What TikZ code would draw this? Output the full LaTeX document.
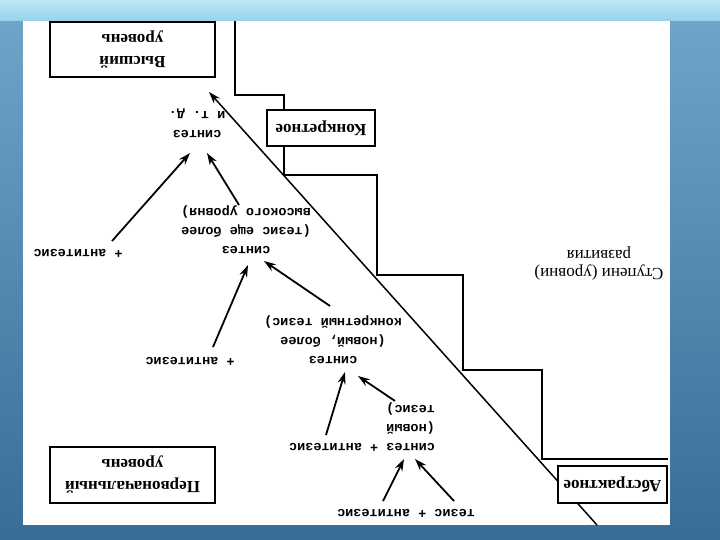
\documentclass[tikz,border=0pt]{standalone}
\usepackage{fontspec}
\setmainfont{Liberation Serif}
\setmonofont{Liberation Mono}
\usetikzlibrary{arrows.meta}
\definecolor{striptop}{RGB}{190,232,246}
\definecolor{stripbot}{RGB}{150,210,234}
\definecolor{bgtop}{RGB}{112,166,202}
\definecolor{bgmid}{RGB}{78,132,172}
\definecolor{bgbot}{RGB}{56,110,150}
\begin{document}
\begin{tikzpicture}[x=1pt,y=-1pt,
  boxst/.style={draw, line width=1.7pt, fill=white, rotate=180, align=center, inner sep=0pt,
    font=\fontsize{17}{22}\selectfont\bfseries},
  txt/.style={rotate=180, align=center, inner sep=0pt,
    font=\ttfamily\bfseries\fontsize{13.5}{19}\selectfont},
  serif/.style={rotate=180, align=center, inner sep=0pt,
    font=\fontsize{17}{18}\selectfont},
  arr/.style={line width=1.8pt, -{Stealth[length=12pt,width=8pt]}},
  stair/.style={line width=1.4pt},
  diag/.style={line width=1.5pt, -{Stealth[length=12pt,width=8pt]}}
]
\useasboundingbox (0,0) rectangle (720,540);
% background
\shade[top color=bgtop, middle color=bgmid, bottom color=bgbot] (0,0) rectangle (720,540);
\shade[top color=striptop, bottom color=stripbot] (0,0) rectangle (720,21);
\fill[white] (23,21) rectangle (670,525);
% staircase
\draw[stair] (235,21) |- (284,95) |- (377,175) |- (463,275) |- (542,370) |- (668,459);
% diagonal arrow
\coordinate (dbot) at (597,525);
\coordinate (dtop) at (209,92);
\draw[diag] (dbot) -- (dtop);
% boxes
\node[boxst, minimum width=165pt, minimum height=55pt] (hi) at (132.5,49.5) {Высший\\уровень};
\node[boxst, minimum width=108pt, minimum height=36pt] (konk) at (321,128) {Конкретное};
\node[boxst, minimum width=165pt, minimum height=56pt] (perv) at (132.5,475) {Первоначальный\\уровень};
\node[boxst, minimum width=109pt, minimum height=37pt] (abst) at (612.5,484.5) {Абстрактное};
% texts
\node[txt] (s4) at (197,123) {синтез\\и т.~д.};
\node[txt] (a3) at (78,253) {+ антитезис};
\node[txt] (s3) at (246,230) {синтез\\(тезис еще более\\высокого уровня)};
\node[txt] (a2) at (190,361) {+ антитезис};
\node[txt] (s2) at (333,340) {синтез\\(новый, более\\конкретный тезис)};
\node[txt, align=left] (s1) at (362,427) {синтез + антитезис\\(новый\\тезис)};
\node[txt] (t) at (406,513) {тезис + антитезис};
\node[serif] (st) at (599,264) {Ступени (уровни)\\развития};
% arrow ends
\coordinate (a3t) at (112,241); \coordinate (s4l) at (190,153);
\coordinate (s3t) at (239,205); \coordinate (s4r) at (207,153);
\coordinate (a2t) at (213,347); \coordinate (s3l) at (248,265);
\coordinate (s2t) at (330,306); \coordinate (s3r) at (264,261);
\coordinate (s1a) at (326,435); \coordinate (s2l) at (345,372);
\coordinate (s1b) at (395,401); \coordinate (s2r) at (358,376);
\coordinate (tl) at (383,501); \coordinate (s1l) at (404,459);
\coordinate (tr) at (454,501); \coordinate (s1r) at (415,459);
\draw[arr] (a3t) -- (s4l);
\draw[arr] (s3t) -- (s4r);
\draw[arr] (a2t) -- (s3l);
\draw[arr] (s2t) -- (s3r);
\draw[arr] (s1a) -- (s2l);
\draw[arr] (s1b) -- (s2r);
\draw[arr] (tl) -- (s1l);
\draw[arr] (tr) -- (s1r);
\end{tikzpicture}
\end{document}
